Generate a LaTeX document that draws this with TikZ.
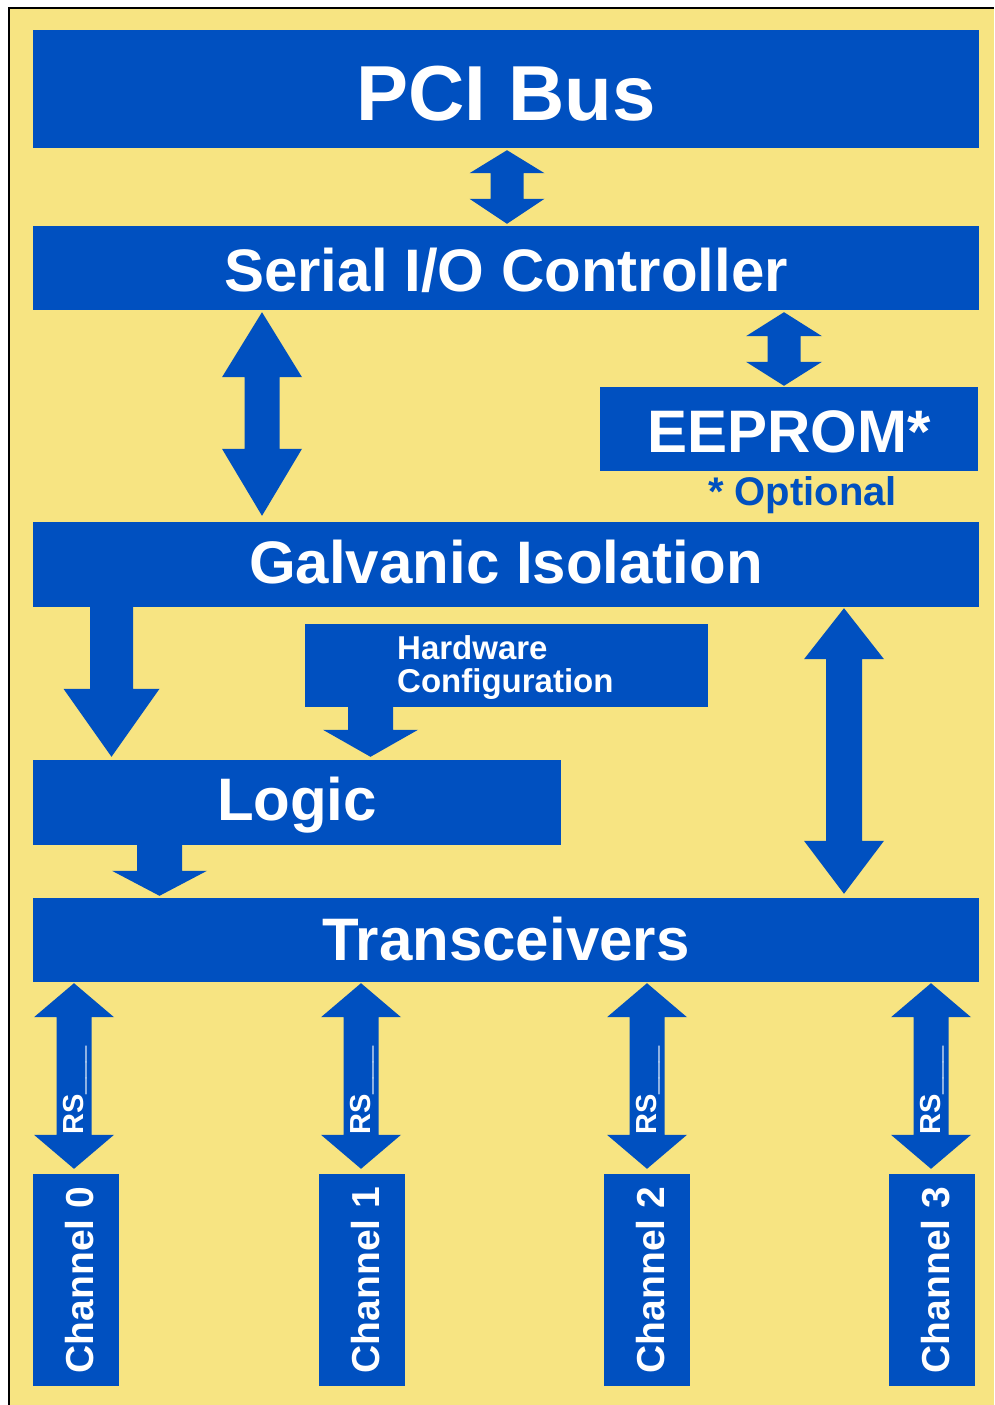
\documentclass[tikz,border=0pt]{standalone}
\usepackage{fontspec}
\setmainfont{Liberation Sans}
\usetikzlibrary{calc}
\definecolor{boxblue}{RGB}{0,80,192}
\definecolor{paper}{RGB}{247,228,130}

% bold text at a given size (in pt, line spacing equal to the size)
\newcommand\px[1]{\fontsize{#1}{#1}\selectfont\bfseries}

% two-headed block arrow between anchor #1 (upper node) and anchor #2 (lower node)
% #3 x, #4 head half-width, #5 shaft half-width, #6/#7 upper/lower head length,
% #8/#9 gap to upper/lower node
\newcommand\bothway[9]{%
  \fill[arrowfill] let \p1=(#1), \p2=(#2) in
    (#3pt,\y1-#8pt)
    -- (#3pt+#4pt,\y1-#8pt-#6pt) -- (#3pt+#5pt,\y1-#8pt-#6pt)
    -- (#3pt+#5pt,\y2+#9pt+#7pt) -- (#3pt+#4pt,\y2+#9pt+#7pt)
    -- (#3pt,\y2+#9pt)
    -- (#3pt-#4pt,\y2+#9pt+#7pt) -- (#3pt-#5pt,\y2+#9pt+#7pt)
    -- (#3pt-#5pt,\y1-#8pt-#6pt) -- (#3pt-#4pt,\y1-#8pt-#6pt)
    -- cycle;}

% one-headed block arrow from anchor #1 down to anchor #2
% #3 x, #4 head half-width, #5 shaft half-width, #6 head length, #7 gap at tip
\newcommand\downway[7]{%
  \fill[arrowfill] let \p1=(#1), \p2=(#2) in
    (#3pt-#5pt,\y1+1pt) -- (#3pt+#5pt,\y1+1pt)
    -- (#3pt+#5pt,\y2+#7pt+#6pt) -- (#3pt+#4pt,\y2+#7pt+#6pt)
    -- (#3pt,\y2+#7pt)
    -- (#3pt-#4pt,\y2+#7pt+#6pt) -- (#3pt-#5pt,\y2+#7pt+#6pt)
    -- cycle;}

\begin{document}
\begin{tikzpicture}[x=1pt,y=-1pt,
  blk/.style={fill=boxblue, text=white, inner sep=0pt},
  wide/.style={blk, minimum width=946pt},
  chan/.style={blk, rotate=90, minimum width=212pt, text height=60pt,
    text depth=26pt, font=\px{39}},
  arrowfill/.style={fill=boxblue},
  rslabel/.style={text=white, inner sep=0pt, rotate=90, anchor=base west,
    font=\px{29}}]

% page, paper and frame
\useasboundingbox (0,0) rectangle (994,1405);
\fill[white] (0,0) rectangle (994,1405);
\fill[paper] (9,8) rectangle (994,1405);
\draw[black, line width=2pt] (9,1405) -- (9,8) -- (994,8);

% blocks
\node[wide, anchor=base, text height=90pt, text depth=28pt, font=\px{78}]
  (pci) at (506,120) {PCI Bus};
\node[wide, anchor=base, text height=65pt, text depth=19pt, font=\px{60}]
  (sio) at (506,291) {Serial I/O Controller};
\node[blk, anchor=base, minimum width=378pt, text height=65pt, text depth=19pt,
  font=\px{60}] (eeprom) at (789,452) {EEPROM*};
\node[text=boxblue, inner sep=0pt, anchor=base, font=\px{40}]
  (opt) at (802.5,505) {* Optional};
\node[wide, anchor=base, text height=61pt, text depth=24pt, font=\px{60}]
  (galv) at (506,583) {Galvanic Isolation};
\node[blk, minimum width=403pt, minimum height=83pt] (hw) at (506.5,665.5) {};
\node[text=white, inner sep=0pt, anchor=base west, align=left, font=\px{33}]
  (hwtext) at (397,692) {Hardware\\Configuration};
\node[blk, anchor=base, minimum width=528pt, text height=60pt, text depth=25pt,
  font=\px{60}] (logic) at (297,820) {Logic};
\node[wide, anchor=base, text height=62pt, text depth=22pt, font=\px{60}]
  (trans) at (506,960) {Transceivers};

% channel blocks are turned upright, so their top edge is the east anchor
\foreach \i/\cx in {0/76,1/362,2/647,3/932}
  \node[chan] (ch\i) at (\cx,1280) {Channel \i};

% connections
\bothway{pci.south}{sio.north}{507}{37.5}{16.5}{23}{25}{2}{2}
\bothway{sio.south}{galv.north}{262}{40}{17.5}{65}{67}{2}{6}
\bothway{sio.south}{eeprom.north}{784}{38}{16.5}{24}{24}{2}{1}
\bothway{galv.south}{trans.north}{844}{40}{18}{51}{53}{1}{4}
\downway{galv.south}{logic.north}{111.5}{48}{21.5}{68}{3}
\downway{hw.south}{logic.north}{370.5}{47.5}{22.5}{27}{3}
\downway{logic.south}{trans.north}{159.5}{47.5}{22.5}{25}{2}

\foreach \i/\ax in {0/74,1/361,2/647,3/931}{
  \bothway{trans.south}{ch\i.east}{\ax}{40}{17.5}{34}{34}{1}{5}
  \node[rslabel] (rs\i) at (\ax+9,1135) {RS\_\_\_};
}
\end{tikzpicture}
\end{document}
